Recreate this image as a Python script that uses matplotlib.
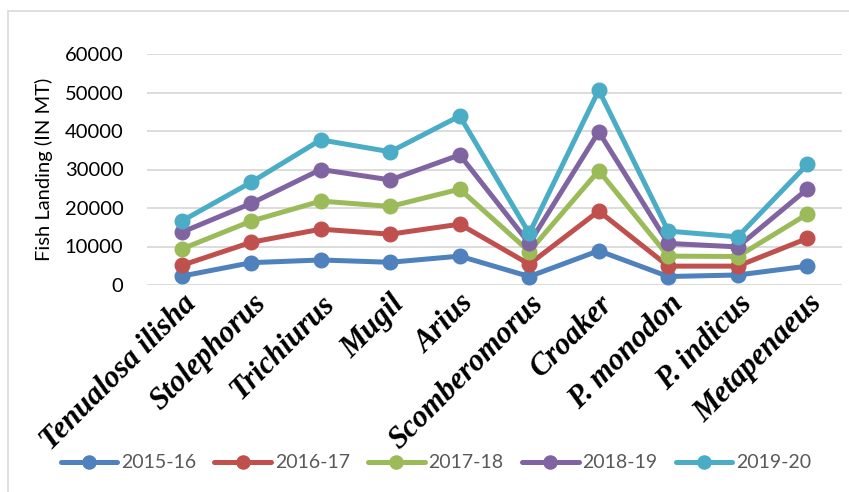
import numpy as np
import matplotlib
matplotlib.use("Agg")
import matplotlib.pyplot as plt
from matplotlib.patches import Rectangle

# species on the x axis
species = ["Tenualosa ilisha", "Stolephorus", "Trichiurus", "Mugil", "Arius",
           "Scomberomorus", "Croaker", "P. monodon", "P. indicus", "Metapenaeus"]

# cumulative landings (MT) per year
y2015_16 = [2300, 5800, 6500, 5900, 7500, 2200, 8900, 2200, 2600, 4900]
y2016_17 = [5100, 11100, 14500, 13200, 15800, 5400, 19200, 4900, 4900, 12100]
y2017_18 = [9350, 16600, 21800, 20400, 24900, 8700, 29700, 7500, 7400, 18400]
y2018_19 = [13700, 21200, 30000, 27300, 33800, 10800, 39800, 10800, 9900, 24900]
y2019_20 = [16600, 26700, 37700, 34600, 43900, 13400, 50600, 14000, 12500, 31300]

years = ["2015-16", "2016-17", "2017-18", "2018-19", "2019-20"]
colors = ["#4F81BD", "#C0504D", "#9BBB59", "#8064A2", "#4BACC6"]
yticks = [0, 10000, 20000, 30000, 40000, 50000, 60000]

plt.rcParams["font.family"] = ["Lato", "DejaVu Sans"]

fig = plt.figure(figsize=(8.49, 4.92), dpi=100)
ax = fig.add_axes([147 / 849, 1 - 285 / 492, 695 / 849, 231 / 492])

x = np.arange(len(species))
for vals, lab, c in zip([y2015_16, y2016_17, y2017_18, y2018_19, y2019_20], years, colors):
    ax.plot(x, vals, color=c, lw=3.6, marker="o", ms=10.5, label=lab,
            solid_capstyle="round", solid_joinstyle="round", zorder=3)

ax.set_xlim(-0.5, len(species) - 0.5)
ax.set_ylim(0, 60000)
ax.set_yticks(yticks)
ax.set_yticklabels([str(v) for v in yticks], fontsize=14.5, color="#000000")
ax.grid(axis="y", color="#D9D9D9", lw=1.3, zorder=0)
ax.set_axisbelow(True)
for s in ax.spines.values():
    s.set_visible(False)
ax.tick_params(axis="both", length=0)
ax.tick_params(axis="y", pad=17)

ax.set_xticks(x)
ax.set_xticklabels(species, rotation=45, ha="right", va="top", rotation_mode="anchor",
                   fontsize=22, fontweight="bold", fontstyle="italic",
                   family="Liberation Serif")
ax.tick_params(axis="x", pad=3)

ax.set_ylabel("Fish Landing (IN MT)", fontsize=14.5)
ax.yaxis.set_label_coords(-0.135, 0.5)

leg = fig.legend(loc="center", bbox_to_anchor=(436 / 849, 1 - 463 / 492), ncol=5,
                 frameon=False, fontsize=14, handlelength=2.9, handletextpad=0.2,
                 columnspacing=0.95, markerscale=0.9)
for t in leg.get_texts():
    t.set_color("#595959")

# outer chart border
fig.patches.append(Rectangle((8 / 849, -0.1), 1.2, 1.1 - 11 / 492, transform=fig.transFigure,
                             fill=False, edgecolor="#D9D9D9", lw=1.2))

fig.savefig("out.png", dpi=100)
